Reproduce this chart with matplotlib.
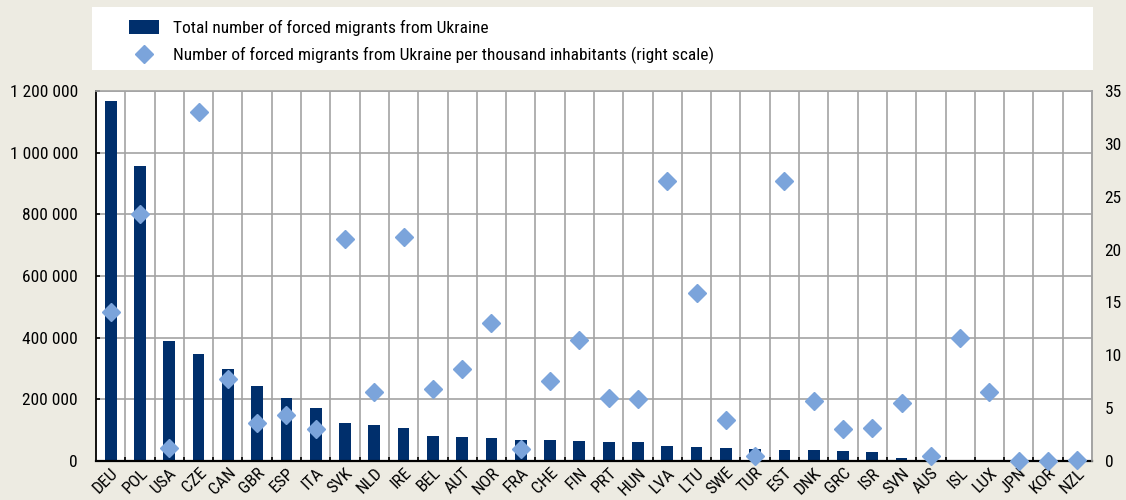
#!/usr/bin/env python
"""
Forced migrants from Ukraine by host country.

Bars show the total number of forced migrants (left scale), diamonds show
the number per thousand inhabitants (right scale).
"""

import matplotlib
matplotlib.use("Agg")
import matplotlib.pyplot as plt
from matplotlib import font_manager
from matplotlib.patches import Rectangle
from matplotlib.ticker import FuncFormatter, MultipleLocator

# Data
countries = ['DEU', 'POL', 'USA', 'CZE', 'CAN', 'GBR', 'ESP', 'ITA', 'SVK', 'NLD',
             'IRE', 'BEL', 'AUT', 'NOR', 'FRA', 'CHE', 'FIN', 'PRT', 'HUN', 'LVA',
             'LTU', 'SWE', 'TUR', 'EST', 'DNK', 'GRC', 'ISR', 'SVN', 'AUS', 'ISL',
             'LUX', 'JPN', 'KOR', 'NZL']
total_migrants = [1168000, 957000, 388000, 347000, 298000, 243000, 203000, 171000,
                  123000, 116000, 108000, 80000, 78000, 73500, 69000, 68000, 64000,
                  62500, 60500, 49600, 44400, 41000, 39000, 35700, 34600, 32400,
                  29000, 11000, 9000, 2500, 2500, 1500, 1000, 500]
per_thousand = [14.07, 23.34, 1.26, 33.05, 7.73, 3.63, 4.35, 3.0, 21.0, 6.56,
                21.2, 6.8, 8.67, 13.1, 1.1, 7.57, 11.4, 6.0, 5.84, 26.5,
                15.9, 3.88, 0.47, 26.5, 5.7, 3.0, 3.15, 5.5, 0.45, 11.67,
                6.56, 0.0, 0.0, 0.1]

label_total = 'Total number of forced migrants from Ukraine'
label_rate = 'Number of forced migrants from Ukraine per thousand inhabitants (right scale)'

BAR_COLOR = '#002F6C'
DIAMOND_COLOR = '#7BA4DB'
BG_COLOR = '#EDEBE2'
GRID_COLOR = '#A3A3A3'


def pick_font():
    """Use a narrow sans if one is installed, otherwise a smaller Liberation Sans."""
    names = {f.name for f in font_manager.fontManager.ttflist}
    for narrow in ('Liberation Sans Narrow', 'Arial Narrow', 'Roboto Condensed',
                   'Open Sans Condensed', 'DejaVu Sans Condensed'):
        if narrow in names:
            return [narrow, 'DejaVu Sans'], 12.5
    return ['Liberation Sans', 'DejaVu Sans'], 12


FONT_FAMILY, FONT_SIZE = pick_font()
plt.rcParams['font.family'] = FONT_FAMILY
plt.rcParams['font.size'] = FONT_SIZE


def space_thousands(value, _pos):
    """Format 1200000 as '1 200 000'."""
    return f"{int(round(value)):,}".replace(',', ' ')


def main():
    fig = plt.figure(figsize=(11.26, 5.0), dpi=100, facecolor=BG_COLOR)
    ax = fig.add_axes([96 / 1126, 39 / 500, 996 / 1126, 370 / 500])
    ax.set_facecolor('white')

    x = list(range(len(countries)))

    # Bars on the left scale
    bars = ax.bar(x, total_migrants, width=0.4, color=BAR_COLOR, zorder=2,
                  label=label_total)
    ax.set_xlim(-0.5, len(countries) - 0.5)
    ax.set_ylim(0, 1200000)
    ax.yaxis.set_major_locator(MultipleLocator(200000))
    ax.yaxis.set_major_formatter(FuncFormatter(space_thousands))

    # Grid: horizontal from the left scale, vertical between categories
    ax.set_xticks(x)
    ax.set_xticklabels(countries, rotation=45, ha='right', va='top',
                       rotation_mode='anchor')
    ax.set_xticks([i + 0.5 for i in x[:-1]], minor=True)
    ax.grid(axis='y', which='major', color=GRID_COLOR, linewidth=1.2, zorder=0)
    ax.grid(axis='x', which='minor', color=GRID_COLOR, linewidth=1.2, zorder=0)
    ax.set_axisbelow(True)

    ax.tick_params(axis='x', which='major', length=0, pad=3)
    ax.tick_params(axis='x', which='minor', direction='in', length=3,
                   width=1.2, color='black')
    ax.tick_params(axis='y', direction='in', length=3, width=1.2,
                   color='black', pad=13)

    for side in ('top', 'right'):
        ax.spines[side].set_color(GRID_COLOR)
        ax.spines[side].set_linewidth(1.2)
    ax.spines['left'].set_color('black')
    ax.spines['left'].set_linewidth(1.3)
    ax.spines['bottom'].set_color('black')
    ax.spines['bottom'].set_linewidth(1.6)

    # Diamonds on the right scale
    ax2 = ax.twinx()
    diamonds, = ax2.plot(x, per_thousand, linestyle='none', marker='D',
                         markersize=9, color=DIAMOND_COLOR,
                         markeredgecolor=DIAMOND_COLOR, clip_on=False,
                         zorder=3, label=label_rate)
    ax2.set_ylim(0, 35)
    ax2.yaxis.set_major_locator(MultipleLocator(5))
    ax2.tick_params(axis='y', length=0, pad=9)
    for side in ('top', 'left', 'bottom'):
        ax2.spines[side].set_visible(False)
    ax2.spines['right'].set_color(GRID_COLOR)
    ax2.spines['right'].set_linewidth(1.2)

    # White legend panel above the plot
    fig.patches.append(Rectangle((92 / 1126, 430 / 500), 1001 / 1126, 63 / 500,
                                 transform=fig.transFigure, facecolor='white',
                                 edgecolor='none', zorder=0))
    fig.legend(handles=[bars, diamonds], labels=[label_total, label_rate],
               loc='center left', bbox_to_anchor=(120 / 1126, 458 / 500),
               frameon=False, handlelength=1.75, handleheight=0.85,
               handletextpad=0.8, labelspacing=0.6, borderpad=0)

    fig.savefig('out.png', dpi=100, facecolor=BG_COLOR)


if __name__ == '__main__':
    main()
